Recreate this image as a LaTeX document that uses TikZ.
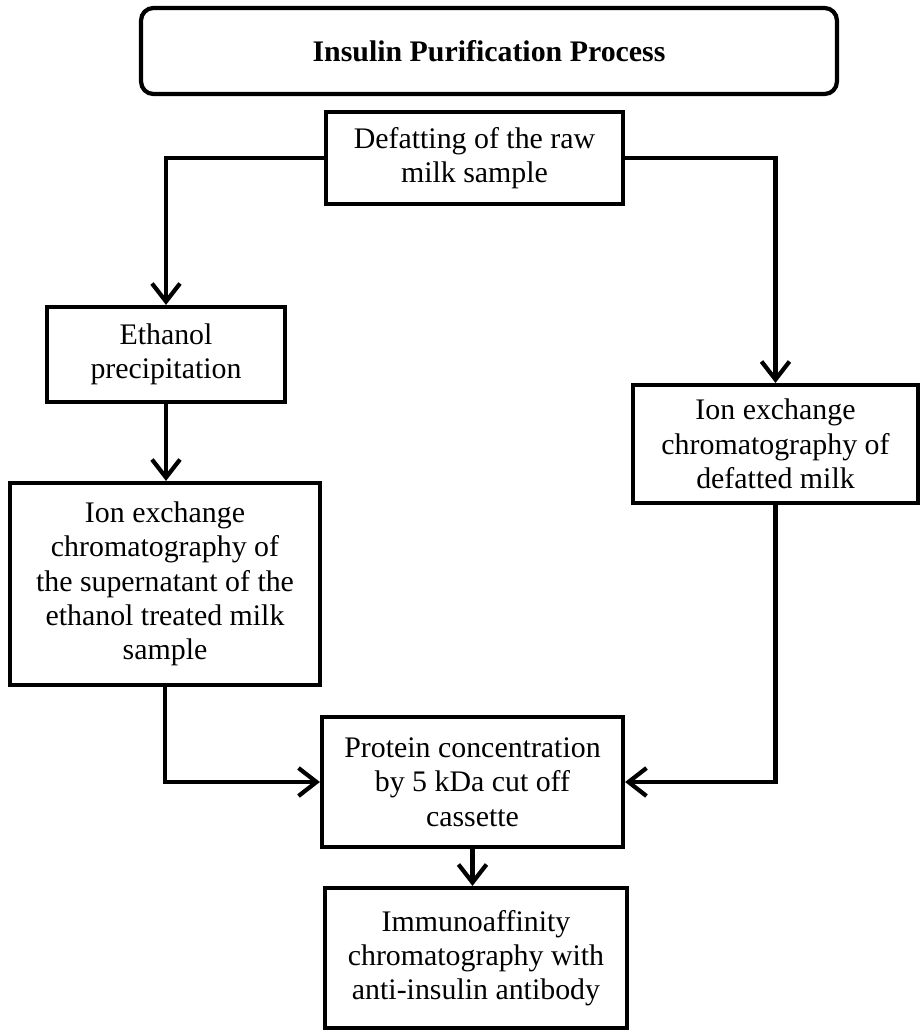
\documentclass[tikz,border=0pt]{standalone}
\usepackage{fontspec}
\setmainfont{Liberation Serif}
\usetikzlibrary{arrows.meta,positioning}

\begin{document}
\begin{tikzpicture}[
    x=0.02cm, y=-0.02cm,
    box/.style={draw,line width=2.4pt,align=center,inner sep=0pt,font=\fontsize{17}{19.5}\selectfont},
    headbox/.style={box,rounded corners=7pt,font=\fontsize{17}{19.5}\selectfont\bfseries},
    arrow/.style={-{Straight Barb[length=0.36cm,width=0.56cm,line width=2.4pt]},line width=2.4pt}
  ]
    \useasboundingbox (0,0) rectangle (923,1035);
    \node[headbox,minimum width=13.92cm,minimum height=1.72cm] (head) at (489,51) {Insulin Purification Process};
    \node[box,minimum width=5.94cm,minimum height=1.84cm] (defat) at (474.5,158) {Defatting of the raw\\milk sample};
    \node[box,minimum width=4.76cm,minimum height=1.9cm] (ethanol) at (166,354.5) {Ethanol\\precipitation};
    \node[box,minimum width=6.2cm,minimum height=4.04cm] (ionleft) at (165,584) {Ion exchange\\chromatography of\\the supernatant of the\\ethanol treated milk\\sample};
    \node[box,minimum width=5.7cm,minimum height=2.36cm] (ionright) at (775.5,444) {Ion exchange\\chromatography of\\defatted milk};
    \node[box,minimum width=6.02cm,minimum height=2.6cm] (protein) at (472.5,782) {Protein concentration\\by 5 kDa cut off\\cassette};
    \node[box,minimum width=6.04cm,minimum height=2.8cm] (immuno) at (476,958) {Immunoaffinity\\chromatography with\\anti-insulin antibody};
    \draw[arrow] (defat.west) -| (ethanol.north);
    \draw[arrow] (defat.east) -| (ionright.north);
    \draw[arrow] (ethanol.south) -- (ethanol.south |- ionleft.north);
    \draw[arrow] (ionleft.south) |- (protein.west);
    \draw[arrow] (ionright.south) |- (protein.east);
    \draw[arrow] (protein.south) -- (protein.south |- immuno.north);
\end{tikzpicture}
\end{document}
